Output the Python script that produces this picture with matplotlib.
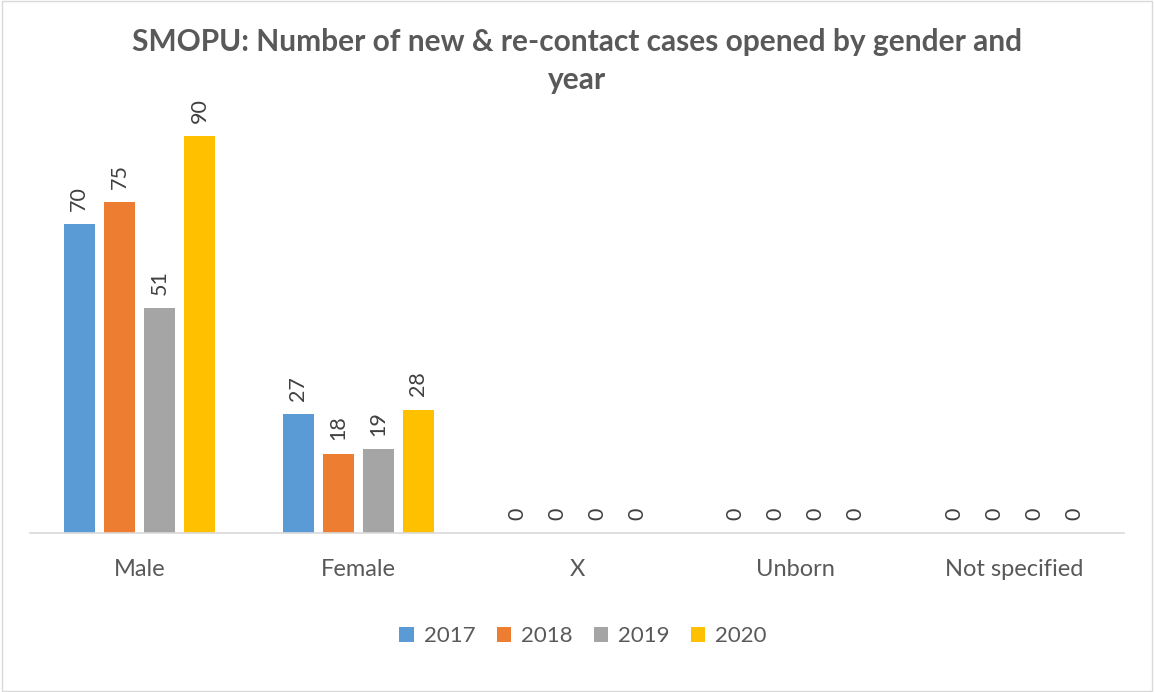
import numpy as np
import matplotlib
matplotlib.use("Agg")
import matplotlib.pyplot as plt
from matplotlib.patches import Rectangle

# Data
categories = ["Male", "Female", "X", "Unborn", "Not specified"]
years = ["2017", "2018", "2019", "2020"]
cases_2017 = [70, 27, 0, 0, 0]
cases_2018 = [75, 18, 0, 0, 0]
cases_2019 = [51, 19, 0, 0, 0]
cases_2020 = [90, 28, 0, 0, 0]
series = [cases_2017, cases_2018, cases_2019, cases_2020]
colors = ["#5B9BD5", "#ED7D31", "#A5A5A5", "#FFC000"]

plt.rcParams['font.family'] = ['Lato', 'DejaVu Sans']
TXT = "#595959"

fig = plt.figure(figsize=(11.54, 6.92), dpi=100)
W, H = 1154, 692
ax = fig.add_axes([30 / W, 1 - 533 / H, 1094 / W, 433 / H])

x = np.arange(len(categories))
step = 0.183
width = 0.142
for i, (vals, c) in enumerate(zip(series, colors)):
    pos = x + (i - 1.5) * step
    ax.bar(pos, vals, width, color=c, label=years[i], zorder=2)
    for px, v in zip(pos, vals):
        ax.text(px, v + 3.0, str(v), rotation=90, ha="center", va="bottom",
                fontsize=15.5, color="#404040")

ax.set_xlim(-0.5, len(categories) - 0.5)
ax.set_ylim(0, 98.2)
ax.set_yticks([])
ax.set_xticks(x)
ax.set_xticklabels(categories, fontsize=17, color=TXT)
ax.tick_params(axis="x", length=0, pad=19)
for s in ["top", "right", "left"]:
    ax.spines[s].set_visible(False)
ax.spines["bottom"].set_color("#D9D9D9")
ax.spines["bottom"].set_linewidth(1.2)

fig.suptitle("SMOPU: Number of new & re-contact cases opened by gender and\nyear",
             x=577 / W, y=1 - 28 / H, fontsize=21.5, fontweight="bold", color=TXT,
             va="top", linespacing=1.45)

leg = fig.legend(loc="center", bbox_to_anchor=(583 / W, 1 - 636 / H), ncol=4,
                 frameon=False, fontsize=16, handlelength=0.65, handleheight=0.65,
                 columnspacing=0.95, handletextpad=0.45)
for t in leg.get_texts():
    t.set_color(TXT)

fig.patches.append(Rectangle((0.002, 0.002), 0.996, 0.996, transform=fig.transFigure,
                             fill=False, edgecolor="#D9D9D9", linewidth=1))

fig.savefig("out.png", dpi=100, facecolor="white")
